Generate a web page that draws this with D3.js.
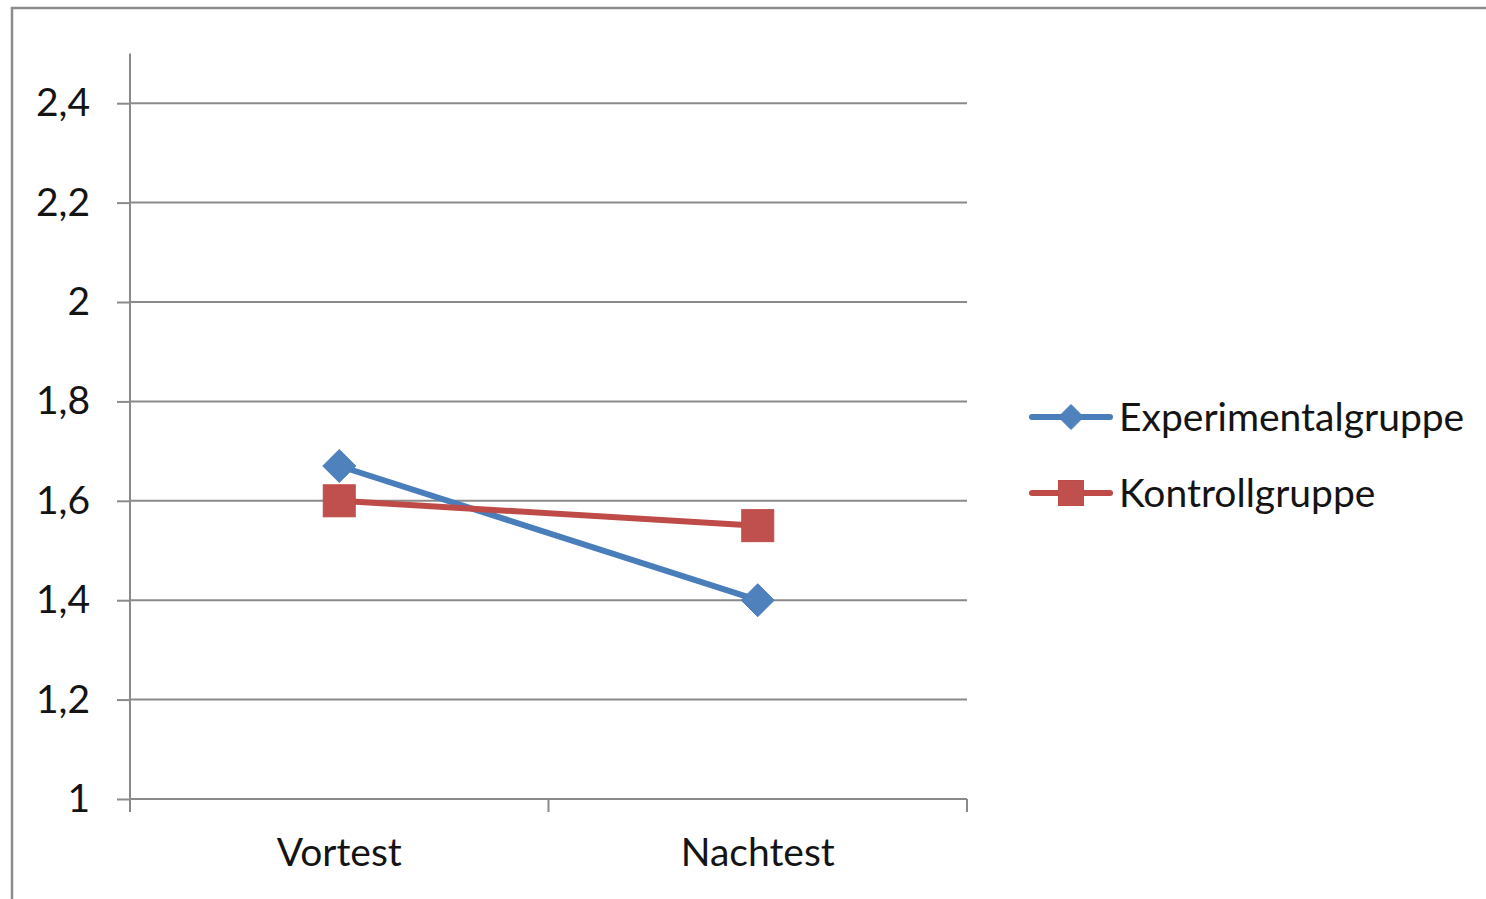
<!DOCTYPE html>
<html>
<head>
<meta charset="utf-8">
<script src="https://cdn.jsdelivr.net/npm/d3@7"></script>
<style>
  html, body { margin: 0; padding: 0; background: #fff; }
  svg { display: block; }
  text { font-family: Lato, "Open Sans", sans-serif; fill: #141414; }
</style>
</head>
<body>
<svg id="chart" width="1486" height="899"></svg>
<script>
// Test phases and mean scores per group
const categories = ["Vortest", "Nachtest"];
const seriesNames = ["Experimentalgruppe", "Kontrollgruppe"];
const experimentalValues = [1.67, 1.40];
const kontrollValues = [1.60, 1.55];
const yTickValues = [1, 1.2, 1.4, 1.6, 1.8, 2, 2.2, 2.4];
const yTickLabels = ["1", "1,2", "1,4", "1,6", "1,8", "2", "2,2", "2,4"];

const series = [
  { name: seriesNames[0], values: experimentalValues, color: "#4A7EBB", fill: "#4F81BD", marker: "diamond" },
  { name: seriesNames[1], values: kontrollValues, color: "#BE4B48", fill: "#C0504D", marker: "square" }
];

const svg = d3.select("#chart");
const W = 1486, H = 899;
const plotLeft = 130, plotRight = 967, plotTop = 53.5, plotBottom = 799;
const fontSize = 39;

// outer frame
svg.append("rect")
  .attr("x", 12).attr("y", 8)
  .attr("width", W + 10).attr("height", H + 10)
  .attr("fill", "none").attr("stroke", "#8c8c8c").attr("stroke-width", 2.5);

const x = d3.scaleBand().domain(categories).range([plotLeft, plotRight]).padding(0);
const y = d3.scaleLinear().domain([1, 2.5]).range([plotBottom, plotTop]);

// horizontal gridlines
svg.append("g")
  .selectAll("line")
  .data(yTickValues.slice(1))
  .join("line")
  .attr("x1", plotLeft).attr("x2", plotRight)
  .attr("y1", d => y(d)).attr("y2", d => y(d))
  .attr("stroke", "#8a8a8a").attr("stroke-width", 2);

// y axis
const yAxis = svg.append("g")
  .attr("transform", `translate(${plotLeft},0)`)
  .call(d3.axisLeft(y)
    .tickValues(yTickValues)
    .tickFormat((d, i) => yTickLabels[i])
    .tickSize(13)
    .tickPadding(27));
yAxis.select(".domain").remove();
yAxis.selectAll(".tick line").attr("stroke", "#8a8a8a").attr("stroke-width", 2);
yAxis.selectAll(".tick text")
  .attr("font-family", "Lato, 'Open Sans', sans-serif")
  .attr("font-size", fontSize).attr("fill", "#141414");
yAxis.append("line")
  .attr("x1", 0).attr("x2", 0)
  .attr("y1", plotTop).attr("y2", plotBottom + 13)
  .attr("stroke", "#8a8a8a").attr("stroke-width", 2);

// x axis
const xAxis = svg.append("g")
  .attr("transform", `translate(0,${plotBottom})`);
xAxis.append("line")
  .attr("x1", plotLeft).attr("x2", plotRight)
  .attr("y1", 0).attr("y2", 0)
  .attr("stroke", "#8a8a8a").attr("stroke-width", 2);
xAxis.selectAll("line.tick")
  .data([plotLeft, ...categories.map(c => x(c) + x.bandwidth())])
  .join("line").attr("class", "tick")
  .attr("x1", d => d).attr("x2", d => d)
  .attr("y1", 0).attr("y2", 13)
  .attr("stroke", "#8a8a8a").attr("stroke-width", 2);
xAxis.selectAll("text")
  .data(categories)
  .join("text")
  .attr("x", d => x(d) + x.bandwidth() / 2)
  .attr("y", 67)
  .attr("text-anchor", "middle")
  .attr("font-size", fontSize)
  .text(d => d);

const cx = c => x(c) + x.bandwidth() / 2;

function drawMarker(g, type, px, py, size, s) {
  if (type === "diamond") {
    g.append("path")
      .attr("d", `M${px},${py - size}L${px + size},${py}L${px},${py + size}L${px - size},${py}Z`)
      .attr("fill", s.fill).attr("stroke", s.color).attr("stroke-width", 1);
  } else {
    g.append("rect")
      .attr("x", px - size).attr("y", py - size)
      .attr("width", size * 2).attr("height", size * 2)
      .attr("fill", s.fill).attr("stroke", s.color).attr("stroke-width", 1);
  }
}

// series lines and markers
const line = d3.line().x((d, i) => cx(categories[i])).y(d => y(d));
series.forEach(s => {
  const g = svg.append("g");
  g.append("path")
    .datum(s.values)
    .attr("d", line)
    .attr("fill", "none")
    .attr("stroke", s.color)
    .attr("stroke-width", 6)
    .attr("stroke-linecap", "round");
  s.values.forEach((v, i) => {
    drawMarker(g, s.marker, cx(categories[i]), y(v), s.marker === "diamond" ? 16.5 : 16, s);
  });
});

// legend
const legendX = 1030, legendY = [417, 493];
series.forEach((s, i) => {
  const g = svg.append("g");
  g.append("line")
    .attr("x1", legendX + 2).attr("x2", legendX + 80)
    .attr("y1", legendY[i]).attr("y2", legendY[i])
    .attr("stroke", s.color).attr("stroke-width", 6)
    .attr("stroke-linecap", "round");
  drawMarker(g, s.marker, legendX + 41, legendY[i], 12.5, s);
  g.append("text")
    .attr("x", 1119)
    .attr("y", legendY[i])
    .attr("dy", "0.35em")
    .attr("font-size", fontSize)
    .text(s.name);
});
</script>
</body>
</html>
